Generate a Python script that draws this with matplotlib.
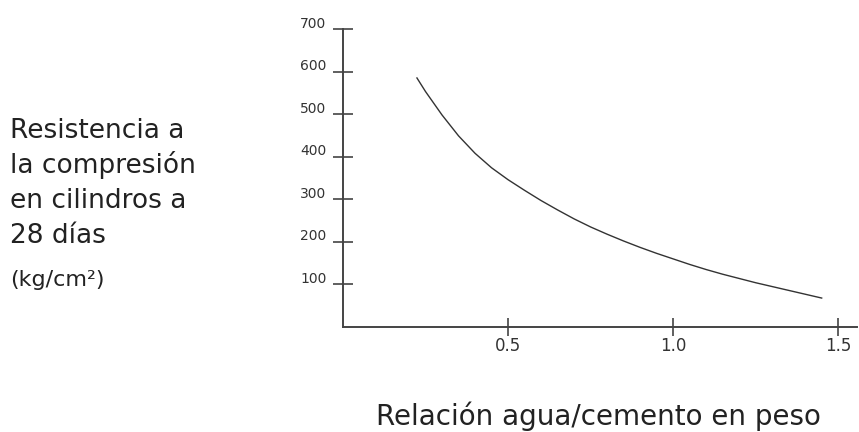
import matplotlib
matplotlib.use('Agg')
import matplotlib.pyplot as plt
import matplotlib.transforms as mtransforms

# relación agua/cemento vs resistencia
ratio = [0.224, 0.25, 0.30, 0.35, 0.40, 0.45, 0.50, 0.55, 0.60, 0.65,
         0.70, 0.75, 0.80, 0.85, 0.90, 0.95, 1.00, 1.05, 1.10, 1.15,
         1.20, 1.25, 1.30, 1.35, 1.40, 1.45]
strength = [585, 553, 498, 449, 408, 374, 346, 321, 297, 275,
            254, 235, 218, 202, 187, 173, 160, 147, 135, 124,
            114, 104, 95, 86, 77, 68]

y_ticks = [100, 200, 300, 400, 500, 600, 700]
x_ticks = [0.5, 1.0, 1.5]
x_tick_labels = ['0.5', '1.0', '1.5']
y_label_lines = ['Resistencia a', 'la compresión', 'en cilindros a', '28 días']
y_label_units = '(kg/cm²)'
x_label = 'Relación agua/cemento en peso'

W, H = 859, 432
fig = plt.figure(figsize=(W / 100, H / 100), dpi=100)
ax = fig.add_axes([343 / W, 1 - 327 / H, (857 - 343) / W, (327 - 29) / H])

ax.plot(ratio, strength, color='#333333', linewidth=1.0)

ax.set_xlim(0, 1.557)
ax.set_ylim(0, 700)
for s in ['top', 'right']:
    ax.spines[s].set_visible(False)
for s in ['left', 'bottom']:
    ax.spines[s].set_color('#444444')
    ax.spines[s].set_linewidth(1.4)

ax.set_yticks(y_ticks)
ax.set_yticklabels([str(v) for v in y_ticks])
ax.set_xticks(x_ticks)
ax.set_xticklabels(x_tick_labels)
ax.tick_params(axis='y', direction='inout', length=14, width=1.2, color='#444444',
               labelsize=10, labelcolor='#333333', pad=5)
ax.tick_params(axis='x', direction='inout', length=13, width=1.2, color='#444444',
               labelsize=12, labelcolor='#333333', pad=1)

# etiquetas del eje y un poco por encima de la marca
offset = mtransforms.ScaledTranslation(0, 0.07, fig.dpi_scale_trans)
for lab in ax.get_yticklabels():
    lab.set_transform(lab.get_transform() + offset)

for i, line in enumerate(y_label_lines):
    fig.text(10 / W, 1 - (138 + 35 * i) / H, line, fontsize=19, color='#222222',
             ha='left', va='baseline')
fig.text(10 / W, 1 - 286 / H, y_label_units, fontsize=16, color='#222222',
         ha='left', va='baseline')

fig.text(598 / W, 1 - 425 / H, x_label, fontsize=20, color='#222222',
         ha='center', va='baseline')

fig.savefig('out.png', dpi=100)
